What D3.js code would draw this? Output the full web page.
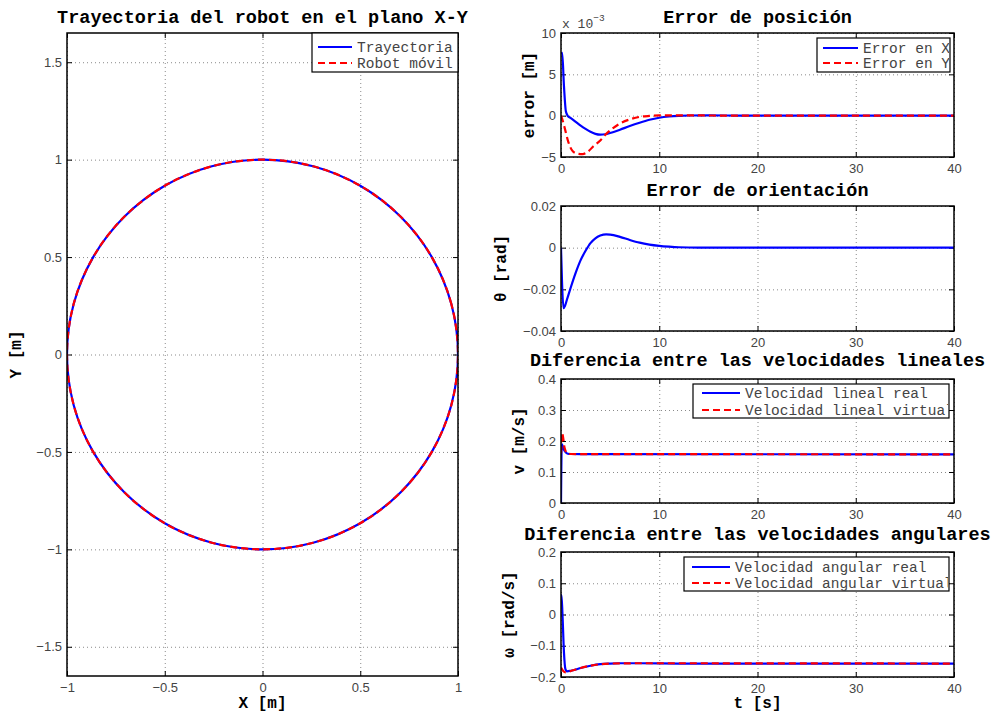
<!DOCTYPE html>
<html lang="es"><head>
<meta charset="utf-8">
<title>robot</title>
<script src="https://cdn.jsdelivr.net/npm/d3@7/dist/d3.min.js"></script>
<style>
  body { margin: 0; background: #fff; }
  svg { font-family: "Liberation Mono", "Courier New", monospace; }
  .grid line { stroke: #8a8a8a; stroke-dasharray: 1,3; }
  .grid path { display: none; }
  .tk text { fill: #444; font-size: 13px; }
  .tk path { display: none; }
  .tk line { stroke: #000; }
</style>
</head>
<body>
<svg width="995" height="713"></svg>
<script>
// ---- data ----
// trajectory in the plane (unit circle), every 15 degrees
var trayectoria = [[1,0],[0.966,0.259],[0.866,0.5],[0.707,0.707],[0.5,0.866],[0.259,0.966],[0,1],
  [-0.259,0.966],[-0.5,0.866],[-0.707,0.707],[-0.866,0.5],[-0.966,0.259],[-1,0],[-0.966,-0.259],
  [-0.866,-0.5],[-0.707,-0.707],[-0.5,-0.866],[-0.259,-0.966],[0,-1],[0.259,-0.966],[0.5,-0.866],
  [0.707,-0.707],[0.866,-0.5],[0.966,-0.259]];
var robotMovil = [[1,0],[0.966,0.259],[0.866,0.5],[0.707,0.707],[0.5,0.866],[0.259,0.966],[0,1],
  [-0.259,0.966],[-0.5,0.866],[-0.707,0.707],[-0.866,0.5],[-0.966,0.259],[-1,0],[-0.966,-0.259],
  [-0.866,-0.5],[-0.707,-0.707],[-0.5,-0.866],[-0.259,-0.966],[0,-1],[0.259,-0.966],[0.5,-0.866],
  [0.707,-0.707],[0.866,-0.5],[0.966,-0.259]];

// [t, value x 1e-3]
var errorX = [[0,7.5],[0.12,7.6],[0.3,3.6],[0.5,0.5],[0.7,-0.05],[1,-0.3],[1.5,-0.75],[2,-1.2],
  [2.5,-1.6],[3,-1.95],[3.5,-2.2],[4,-2.3],[4.5,-2.25],[5,-2.1],[6,-1.7],[7,-1.25],[8,-0.85],
  [9,-0.5],[10,-0.25],[11,-0.1],[12,-0.02],[13,0.02],[15,0.03],[18,0.01],[22,0],[40,0]];
var errorY = [[0,0],[0.2,-0.7],[0.4,-1.6],[0.75,-3.2],[1.2,-4.3],[1.7,-4.6],[2.2,-4.65],[2.7,-4.4],
  [3.3,-3.7],[4,-3.0],[4.6,-2.2],[5.3,-1.5],[6,-0.95],[7,-0.45],[8,-0.15],[9,-0.03],[10,0.03],
  [12,0.04],[15,0.02],[20,0],[40,0]];
var theta = [[0,0],[0.1,-0.016],[0.25,-0.029],[0.4,-0.028],[0.6,-0.025],[1,-0.019],[1.5,-0.012],
  [2,-0.006],[2.5,-0.0015],[3,0.0022],[3.5,0.0045],[4,0.0058],[4.6,0.0064],[5,0.0063],[6,0.0052],
  [7,0.0037],[8,0.0024],[9,0.0015],[10,0.0009],[11,0.0005],[12,0.0002],[14,0],[40,0]];
var vReal = [[0,0],[0.08,0.19],[0.15,0.185],[0.3,0.172],[0.5,0.163],[0.7,0.159],[1,0.158],[2,0.1575],[40,0.157]];
var vVirtual = [[0,0.16],[0.05,0.2],[0.1,0.226],[0.2,0.215],[0.35,0.18],[0.5,0.165],[0.7,0.159],[1,0.158],[40,0.157]];
var wReal = [[0,0.062],[0.05,0.062],[0.15,0],[0.3,-0.12],[0.45,-0.175],[0.6,-0.182],[1,-0.18],
  [1.5,-0.176],[2,-0.171],[3,-0.164],[4,-0.159],[5,-0.157],[6,-0.156],[8,-0.156],[12,-0.157],[40,-0.157]];
var wVirtual = [[0,-0.17],[0.2,-0.18],[0.5,-0.185],[1,-0.181],[1.5,-0.176],[2,-0.171],[3,-0.164],
  [4,-0.159],[5,-0.157],[8,-0.156],[40,-0.157]];

var ticksXY = [-1,-0.5,0,0.5,1];
var ticksYY = [-1.5,-1,-0.5,0,0.5,1,1.5];
var ticksT = [0,10,20,30,40];
var ticksErr = [-5,0,5,10];
var ticksTheta = [-0.04,-0.02,0,0.02];
var ticksV = [0,0.1,0.2,0.3,0.4];
var ticksW = [-0.2,-0.1,0,0.1,0.2];

var svg = d3.select("svg");
var fmt = function(d){ return String(d).replace("-", "\u2212"); };
var clipId = 0;

function panel(c) {
  var x = d3.scaleLinear().domain(c.xd).range([c.x0, c.x1]);
  var y = d3.scaleLinear().domain(c.yd).range([c.y1, c.y0]);
  var g = svg.append("g");
  var w = c.x1 - c.x0, h = c.y1 - c.y0;

  g.append("rect").attr("x", c.x0).attr("y", c.y0).attr("width", w).attr("height", h).attr("fill", "#fff");

  // grid
  g.append("g").attr("class", "grid").attr("transform", "translate(0," + c.y1 + ")")
    .call(d3.axisBottom(x).tickValues(c.xt).tickSize(-h).tickFormat(""));
  g.append("g").attr("class", "grid").attr("transform", "translate(" + c.x0 + ",0)")
    .call(d3.axisLeft(y).tickValues(c.yt).tickSize(-w).tickFormat(""));

  // ticks pointing inwards
  g.append("g").attr("class", "tk").attr("transform", "translate(0," + c.y1 + ")")
    .call(d3.axisBottom(x).tickValues(c.xt).tickSize(-5).tickPadding(7).tickFormat(fmt));
  g.append("g").attr("class", "tk").attr("transform", "translate(0," + c.y0 + ")")
    .call(d3.axisTop(x).tickValues(c.xt).tickSize(-5).tickFormat(""));
  g.append("g").attr("class", "tk").attr("transform", "translate(" + c.x0 + ",0)")
    .call(d3.axisLeft(y).tickValues(c.yt).tickSize(-5).tickPadding(5).tickFormat(fmt));
  g.append("g").attr("class", "tk").attr("transform", "translate(" + c.x1 + ",0)")
    .call(d3.axisRight(y).tickValues(c.yt).tickSize(-5).tickFormat(""));
  g.selectAll(".tk text").attr("font-family", null).attr("font-size", null);

  var id = "clip" + (clipId++);
  g.append("clipPath").attr("id", id).append("rect")
    .attr("x", c.x0).attr("y", c.y0).attr("width", w).attr("height", h);

  var lines = g.append("g").attr("clip-path", "url(#" + id + ")");
  c.series.forEach(function(s) {
    var line = d3.line().x(function(d){ return x(d[0]); }).y(function(d){ return y(d[1]); })
      .curve(s.closed ? d3.curveCatmullRomClosed : d3.curveMonotoneX);
    lines.append("path").datum(s.data)
      .attr("fill", "none").attr("stroke", s.color).attr("stroke-width", 2.2)
      .attr("stroke-dasharray", s.dash ? "7,4" : null)
      .attr("d", line);
  });

  g.append("rect").attr("x", c.x0).attr("y", c.y0).attr("width", w).attr("height", h)
    .attr("fill", "none").attr("stroke", "#000").attr("stroke-width", 1.5);

  // title and labels
  g.append("text").attr("x", (c.x0 + c.x1) / 2).attr("y", c.ty)
    .attr("text-anchor", "middle").attr("font-weight", "bold").attr("font-size", "18.5px")
    .text(c.title);
  if (c.xlabel) {
    g.append("text").attr("x", (c.x0 + c.x1) / 2).attr("y", 708)
      .attr("text-anchor", "middle").attr("font-weight", "bold").attr("font-size", "16px")
      .text(c.xlabel);
  }
  g.append("text").attr("transform", "translate(" + c.lx + "," + ((c.y0 + c.y1) / 2) + ") rotate(-90)")
    .attr("dy", "0.35em").attr("text-anchor", "middle").attr("font-weight", "bold").attr("font-size", "16px")
    .text(c.ylabel);

  // legend
  if (c.legend) {
    var L = c.legend;
    var lg = g.append("g");
    var lid = "clip" + (clipId++);
    lg.append("clipPath").attr("id", lid).append("rect")
      .attr("x", L.box[0]).attr("y", L.box[1]).attr("width", L.box[2] - 1).attr("height", L.box[3]);
    lg.append("rect").attr("x", L.box[0]).attr("y", L.box[1]).attr("width", L.box[2]).attr("height", L.box[3])
      .attr("fill", "#fff").attr("stroke", "#000").attr("stroke-width", 1.2);
    c.series.forEach(function(s, i) {
      lg.append("line").attr("x1", L.line[0]).attr("x2", L.line[1]).attr("y1", L.rows[i]).attr("y2", L.rows[i])
        .attr("stroke", s.color).attr("stroke-width", 2.2).attr("stroke-dasharray", s.dash ? "7,4" : null);
      lg.append("text").attr("x", L.text).attr("y", L.rows[i]).attr("dy", "0.35em")
        .attr("clip-path", "url(#" + lid + ")")
        .attr("font-size", "14.5px").attr("fill", "#444").text(s.name);
    });
  }
  return g;
}

panel({ x0: 67, x1: 458, y0: 33, y1: 676, xd: [-1, 1], yd: [-1.65, 1.65], xt: ticksXY, yt: ticksYY,
  title: "Trayectoria del robot en el plano X-Y", ty: 23, xlabel: "X [m]", ylabel: "Y [m]", lx: 15,
  series: [{ name: "Trayectoria", data: trayectoria, color: "#0000ff", closed: true },
           { name: "Robot móvil", data: robotMovil, color: "#ff0000", dash: true, closed: true }],
  legend: { box: [312, 33, 146, 39], line: [318, 352], text: 357, rows: [47, 63] } });

var p1 = panel({ x0: 561, x1: 954, y0: 33, y1: 157, xd: [0, 40], yd: [-5, 10], xt: ticksT, yt: ticksErr,
  title: "Error de posición", ty: 23, ylabel: "error [m]", lx: 528,
  series: [{ name: "Error en X", data: errorX, color: "#0000ff" },
           { name: "Error en Y", data: errorY, color: "#ff0000", dash: true }],
  legend: { box: [817, 38, 133, 34], line: [823, 858], text: 863, rows: [48, 63] } });
var ex = p1.append("text").attr("x", 562).attr("y", 28).attr("fill", "#444").attr("font-size", "13px").text("x 10");
ex.append("tspan").attr("dy", -7).attr("font-size", "9.5px").text("\u22123");

panel({ x0: 561, x1: 954, y0: 206, y1: 331, xd: [0, 40], yd: [-0.04, 0.02], xt: ticksT, yt: ticksTheta,
  title: "Error de orientación", ty: 196, ylabel: "θ [rad]", lx: 500,
  series: [{ name: "θ", data: theta, color: "#0000ff" }] });

panel({ x0: 561, x1: 954, y0: 379, y1: 503, xd: [0, 40], yd: [0, 0.4], xt: ticksT, yt: ticksV,
  title: "Diferencia entre las velocidades lineales", ty: 366, ylabel: "v [m/s]", lx: 518,
  series: [{ name: "Velocidad lineal real", data: vReal, color: "#0000ff" },
           { name: "Velocidad lineal virtual", data: vVirtual, color: "#ff0000", dash: true }],
  legend: { box: [693, 384, 256, 34], line: [702, 740], text: 745, rows: [393, 410] } });

panel({ x0: 561, x1: 954, y0: 552, y1: 677, xd: [0, 40], yd: [-0.2, 0.2], xt: ticksT, yt: ticksW,
  title: "Diferencia entre las velocidades angulares", ty: 540, xlabel: "t [s]", ylabel: "ω [rad/s]", lx: 508,
  series: [{ name: "Velocidad angular real", data: wReal, color: "#0000ff" },
           { name: "Velocidad angular virtual", data: wVirtual, color: "#ff0000", dash: true }],
  legend: { box: [684, 557, 265, 34], line: [692, 730], text: 735, rows: [567, 583] } });
</script>
</body>
</html>
